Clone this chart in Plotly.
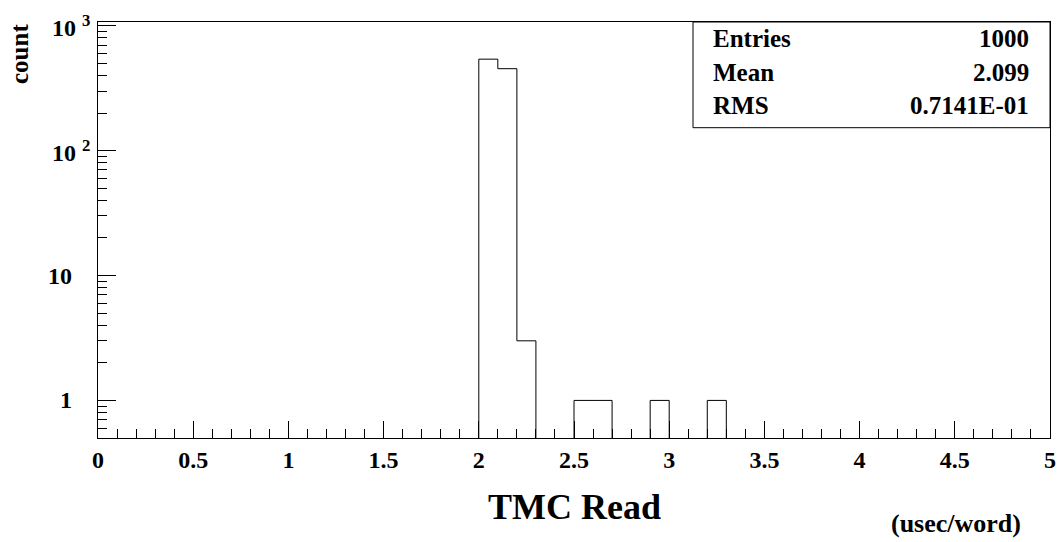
import numpy as np
import plotly.graph_objects as go

# Histogram of TMC read time per word, 50 bins of 0.1 usec between 0 and 5
bin_edges = np.round(np.arange(0.0, 5.0001, 0.1), 1)
counts = np.zeros(50)
counts[20] = 540   # 2.0 - 2.1
counts[21] = 453   # 2.1 - 2.2
counts[22] = 3     # 2.2 - 2.3
counts[25] = 1     # 2.5 - 2.6
counts[26] = 1     # 2.6 - 2.7
counts[29] = 1     # 2.9 - 3.0
counts[32] = 1     # 3.2 - 3.3

stat_names = ["Entries", "Mean", "RMS"]
stat_values = ["1000", "2.099", "0.7141E-01"]

x_major = [0, 0.5, 1, 1.5, 2, 2.5, 3, 3.5, 4, 4.5, 5]
x_major_text = ["0", "0.5", "1", "1.5", "2", "2.5", "3", "3.5", "4", "4.5", "5"]
y_major = [1, 10, 100, 1000]
y_major_text = ["1", "10", "10&nbsp;<sup>2</sup>", "10&nbsp;<sup>3</sup>"]

FONT = "Liberation Serif"
W, H = 1062, 542
L, R, T, B = 98, 12, 22, 104
PW, PH = W - L - R, H - T - B


def px_x(p):
    return (p - L) / PW


def px_y(p):
    return 1 - (p - T) / PH


def bold(s):
    return f"<b>{s}</b>"


# step outline: empty bins sit below the visible log range so they are clipped
floor = 1e-3
step_y = np.where(counts > 0, counts, floor)
step_y = np.append(step_y, step_y[-1])

x_minor = [v for v in np.round(np.arange(0.1, 5.0, 0.1), 1) if abs(v * 2 - round(v * 2)) > 1e-6]
y_minor = [m * 10.0 ** d for d in (-1, 0, 1, 2) for m in range(2, 10) if 0.5 <= m * 10.0 ** d < 1000]

fig = go.Figure()
fig.add_trace(go.Scatter(
    x=bin_edges, y=step_y, mode="lines", line_shape="hv",
    line=dict(color="black", width=1), hoverinfo="skip", showlegend=False,
))

fig.update_layout(
    width=W, height=H,
    margin=dict(l=L, r=R, t=T, b=B, autoexpand=False),
    paper_bgcolor="white", plot_bgcolor="white",
    font=dict(family=FONT, color="black"),
    showlegend=False,
    xaxis=dict(
        range=[0, 5], showgrid=False, zeroline=False, automargin=False,
        showline=True, linecolor="black", linewidth=1, mirror=True,
        ticks="inside", ticklen=17, tickcolor="black", tickwidth=1,
        tickvals=x_major, ticktext=[bold(t) for t in x_major_text],
        tickfont=dict(family=FONT, size=24, color="black"),
        ticklabelstandoff=0,
        minor=dict(tickvals=x_minor, ticks="inside", ticklen=9,
                   tickcolor="black", tickwidth=1, showgrid=False),
    ),
    yaxis=dict(
        type="log", range=[np.log10(0.5), 3.03], showgrid=False, zeroline=False,
        automargin=False,
        showline=True, linecolor="black", linewidth=1, mirror=True,
        ticks="inside", ticklen=18, tickcolor="black", tickwidth=1,
        tickvals=y_major, showticklabels=False,
        minor=dict(tickvals=y_minor, ticks="inside", ticklen=9,
                   tickcolor="black", tickwidth=1, showgrid=False),
    ),
)

# y tick labels: plain numbers right-aligned, powers of ten start at a fixed column
for val, txt in zip(y_major, y_major_text):
    powered = "<sup>" in txt
    fig.add_annotation(xref="paper", yref="y", x=px_x(50 if powered else 74), y=np.log10(val),
                       text=bold(txt), showarrow=False,
                       xanchor="left" if powered else "right", yanchor="middle",
                       font=dict(family=FONT, size=24, color="black"))

# statistics box in the top right corner
fig.add_shape(type="rect", xref="paper", yref="paper",
              x0=px_x(693), x1=1.0, y0=px_y(127.7), y1=1.0,
              line=dict(color="black", width=1), fillcolor="white", layer="above")
row_y = [39, 72.5, 106]
for name, val, yy in zip(stat_names, stat_values, row_y):
    fig.add_annotation(xref="paper", yref="paper", x=px_x(711), y=px_y(yy), text=bold(name),
                       showarrow=False, xanchor="left", yanchor="middle",
                       font=dict(family=FONT, size=25, color="black"))
    fig.add_annotation(xref="paper", yref="paper", x=px_x(1031), y=px_y(yy), text=bold(val),
                       showarrow=False, xanchor="right", yanchor="middle",
                       font=dict(family=FONT, size=25, color="black"))

# axis titles
fig.add_annotation(xref="paper", yref="paper", x=0.5, y=px_y(507),
                   text=bold("TMC Read"), showarrow=False, xanchor="center", yanchor="middle",
                   font=dict(family=FONT, size=36, color="black"))
fig.add_annotation(xref="paper", yref="paper", x=px_x(1023), y=px_y(523),
                   text=bold("(usec/word)"), showarrow=False, xanchor="right", yanchor="middle",
                   font=dict(family=FONT, size=26, color="black"))
fig.add_annotation(xref="paper", yref="paper", x=px_x(20), y=px_y(54),
                   text=bold("count"), showarrow=False, textangle=-90,
                   xanchor="center", yanchor="middle",
                   font=dict(family=FONT, size=25, color="black"))

fig.write_html("out.html")
